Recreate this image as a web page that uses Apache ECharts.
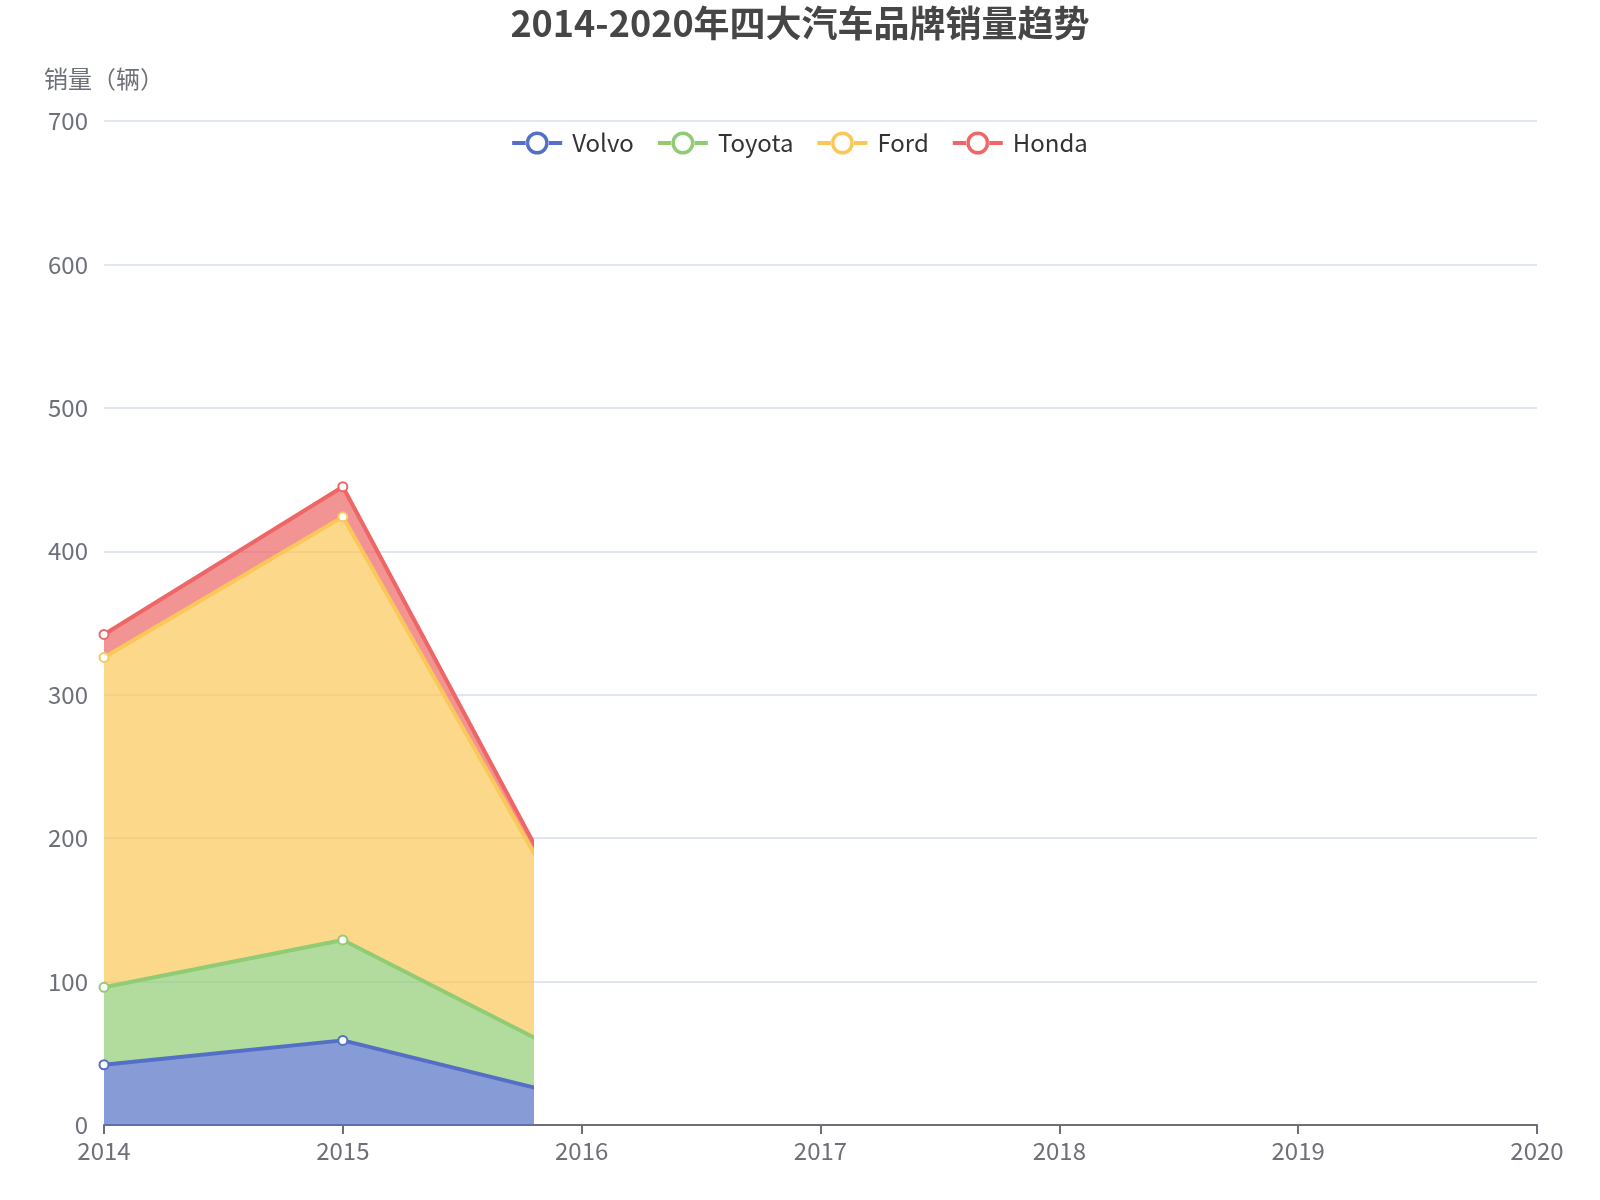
<!DOCTYPE html>
<html>
<head>
    <meta charset="utf-8">
    <title>ECharts</title>
    <script src="https://cdn.jsdelivr.net/npm/echarts@6/dist/echarts.min.js"></script>
    <style>
        html, body { margin: 0; padding: 0; background: #fff; }
    </style>
</head>
<body>
    <div id="main" style="width: 1600px;height:1200px;"></div>
    <script type="text/javascript">
      // data
      var years = ['2014', '2015', '2016', '2017', '2018', '2019', '2020'];
      var seriesNames = ['Volvo', 'Toyota', 'Ford', 'Honda'];
      var volvo = [42, 59, 18];
      var toyota = [54, 70, 26];
      var ford = [230, 295, 87];
      var honda = [16, 21, 3];
      var colors = ['#5470c6', '#91cc75', '#fac858', '#ee6666'];

      // the picture shows the areas drawn only up to ~2015.8
      var revealed = 1.79;
      var gridLeft = 104, gridRight = 63, gridTop = 121, gridBottom = 75;
      var chartWidth = 1600;
      var perCat = (chartWidth - gridLeft - gridRight) / (years.length - 1);
      var YEAR_MS = 365 * 24 * 3600 * 1000;
      var t0 = Date.UTC(+years[0], 0, 1);

      // legend icon: line with a thick hollow ring (50 x 23 box)
      var legendIcon = 'path://M0 9.5H14V13.5H0Z M36 9.5H50V13.5H36Z' +
        'M13.5 11.5A11.5 11.5 0 1 0 36.5 11.5A11.5 11.5 0 1 0 13.5 11.5Z' +
        'M17 11.5A8 8 0 1 1 33 11.5A8 8 0 1 1 17 11.5Z';

      var font = '"Microsoft YaHei", "Noto Sans CJK SC", "Noto Sans", sans-serif';
      var myChart = echarts.init(document.getElementById('main'));

      var values = [volvo, toyota, ford, honda];
      var series = [];
      for (var i = 0; i < seriesNames.length; i++) {
        series.push({
          name: seriesNames[i],
          type: 'line',
          stack: 'total',
          xAxisIndex: 1,
          yAxisIndex: 1,
          symbol: 'emptyCircle',
          symbolSize: 9,
          color: colors[i],
          lineStyle: { width: 4 },
          itemStyle: { borderWidth: 3 },
          areaStyle: { opacity: 0.7 },
          // time on the hidden axis so the stack goes on the values
          data: values[i].map(function (v, idx) {
            return [Date.UTC(+years[idx], 0, 1), v];
          })
        });
      }

      var option = {
        animation: false,
        textStyle: { fontFamily: font },
        title: {
          text: '2014-2020年四大汽车品牌销量趋势',
          left: 'center',
          top: 0,
          textStyle: { fontSize: 36, fontWeight: 'bold', color: '#464646', fontFamily: font }
        },
        legend: {
          data: seriesNames.map(function (n) { return { name: n, icon: legendIcon }; }),
          top: 126,
          itemWidth: 50,
          itemHeight: 23,
          itemGap: 24,
          itemStyle: { borderWidth: 0 },
          textStyle: { fontSize: 24, color: '#333', padding: [0, 0, 0, 5] }
        },
        grid: [
          { left: gridLeft, right: gridRight, top: gridTop, bottom: gridBottom },
          { left: gridLeft, width: perCat * revealed, top: gridTop, bottom: gridBottom }
        ],
        xAxis: [
          {
            type: 'category',
            gridIndex: 0,
            boundaryGap: false,
            data: years,
            axisLine: { lineStyle: { color: '#6e7079', width: 2 } },
            axisTick: { length: 9, lineStyle: { width: 2 } },
            axisLabel: { fontSize: 24, color: '#6e7079', margin: 14 }
          },
          { type: 'time', gridIndex: 1, min: t0, max: t0 + revealed * YEAR_MS, show: false }
        ],
        yAxis: [
          {
            type: 'value',
            gridIndex: 0,
            min: 0,
            max: 700,
            interval: 100,
            name: '销量（辆）',
            nameGap: 30,
            nameTextStyle: { fontSize: 24, color: '#6e7079' },
            axisLabel: { fontSize: 24, color: '#6e7079', margin: 16 },
            splitLine: { lineStyle: { color: '#e0e6f1', width: 2 } }
          },
          { type: 'value', gridIndex: 1, min: 0, max: 700, show: false }
        ],
        series: series
      };
      myChart.setOption(option);
    </script>
</body>
</html>
